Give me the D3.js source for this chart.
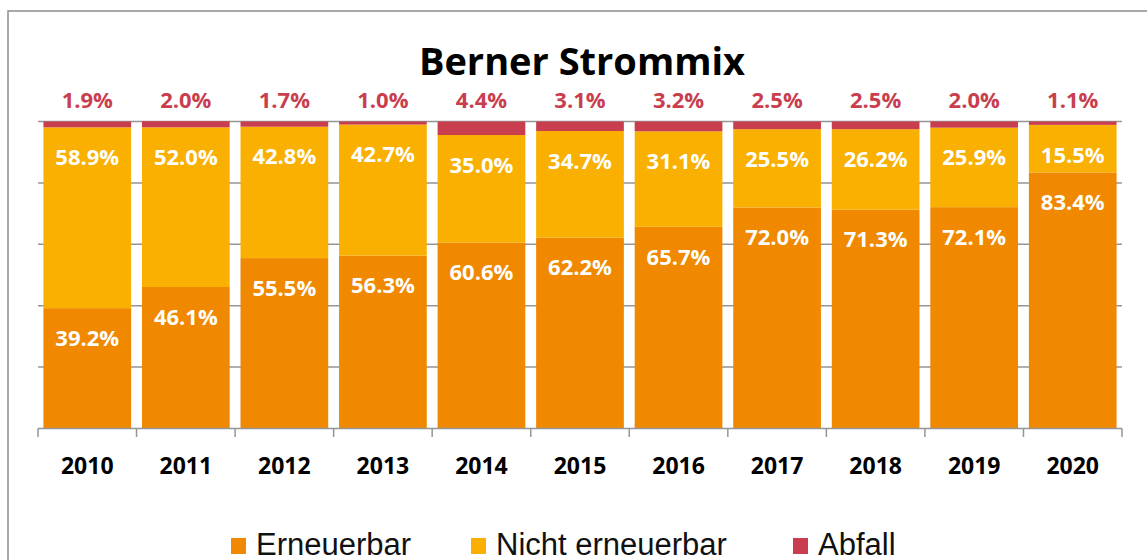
<!DOCTYPE html>
<html>
<head>
<meta charset="utf-8">
<script src="https://cdn.jsdelivr.net/npm/d3@7"></script>
<style>
  body { margin: 0; background: #fff; }
  svg { display: block; }
</style>
</head>
<body>
<div id="chart"></div>
<script>
// data (percent)
var years = ["2010", "2011", "2012", "2013", "2014", "2015", "2016", "2017", "2018", "2019", "2020"];
var erneuerbar = [39.2, 46.1, 55.5, 56.3, 60.6, 62.2, 65.7, 72.0, 71.3, 72.1, 83.4];
var nichtErneuerbar = [58.9, 52.0, 42.8, 42.7, 35.0, 34.7, 31.1, 25.5, 26.2, 25.9, 15.5];
var abfall = [1.9, 2.0, 1.7, 1.0, 4.4, 3.1, 3.2, 2.5, 2.5, 2.0, 1.1];
var seriesNames = ["Erneuerbar", "Nicht erneuerbar", "Abfall"];
var yTicks = [0, 20, 40, 60, 80, 100];

var colors = ["#f08800", "#f9b000", "#c93e4e"];

var W = 1147, H = 560;
var svg = d3.select("#chart").append("svg").attr("width", W).attr("height", H);

// outer frame
svg.append("rect")
    .attr("x", 8).attr("y", 11).attr("width", 1300).attr("height", 700)
    .attr("fill", "#fff").attr("stroke", "#8c8c8c").attr("stroke-width", 1.5);

svg.append("text")
    .attr("x", 582).attr("y", 75)
    .attr("text-anchor", "middle")
    .style("font-family", "Open Sans")
    .style("font-weight", "bold")
    .style("font-size", "38px")
    .text("Berner Strommix");

var x = d3.scaleBand().domain(years).range([38, 1122]).paddingInner(0.11).paddingOuter(0.055);
var y = d3.scaleLinear().domain([0, 100]).range([428.5, 121.5]);

// gridlines
svg.append("g").selectAll("line")
    .data(yTicks.filter(function (d) { return d > 0; }))
    .enter().append("line")
    .attr("x1", 38).attr("x2", 1122)
    .attr("y1", function (d) { return y(d); })
    .attr("y2", function (d) { return y(d); })
    .attr("stroke", "#959595").attr("stroke-width", 1.5);

var table = years.map(function (yr, i) {
    return { year: yr, Erneuerbar: erneuerbar[i], "Nicht erneuerbar": nichtErneuerbar[i], Abfall: abfall[i] };
});
var stacked = d3.stack().keys(seriesNames)(table);

var layers = svg.append("g").selectAll("g")
    .data(stacked)
    .enter().append("g")
    .attr("fill", function (d, i) { return colors[i]; });

layers.selectAll("rect")
    .data(function (d) { return d; })
    .enter().append("rect")
    .attr("x", function (d) { return x(d.data.year); })
    .attr("width", x.bandwidth())
    .attr("y", function (d) { return y(d[1]); })
    .attr("height", function (d) { return y(d[0]) - y(d[1]); });

// x axis with ticks at category boundaries
var axis = svg.append("g");
axis.append("line")
    .attr("x1", 38).attr("x2", 1122).attr("y1", 428.5).attr("y2", 428.5)
    .attr("stroke", "#959595").attr("stroke-width", 1.5);
var bounds = years.map(function (d) { return x(d) - x.step() * x.paddingInner() / 2; });
bounds.push(1122);
axis.selectAll(".tk").data(bounds).enter().append("line")
    .attr("x1", function (d) { return d; }).attr("x2", function (d) { return d; })
    .attr("y1", 428.5).attr("y2", 437)
    .attr("stroke", "#959595").attr("stroke-width", 1.5);
axis.selectAll("text").data(years).enter().append("text")
    .attr("x", function (d) { return x(d) + x.bandwidth() / 2; })
    .attr("y", 474)
    .attr("text-anchor", "middle")
    .style("font-family", "Open Sans")
    .style("font-weight", "bold")
    .style("font-size", "23px")
    .text(function (d) { return d; });

// value labels
var fmt = function (v) { return v.toFixed(1) + "%"; };
var labels = svg.append("g")
    .style("font-family", "Open Sans")
    .style("font-weight", "bold")
    .style("font-size", "22px")
    .attr("text-anchor", "middle");

[0, 1].forEach(function (s) {
    labels.selectAll(".l" + s).data(stacked[s]).enter().append("text")
        .attr("x", function (d) { return x(d.data.year) + x.bandwidth() / 2; })
        .attr("y", function (d) { return y(d[1]) + 30; })
        .attr("dy", "0.35em")
        .attr("fill", "#fff")
        .text(function (d) { return fmt(d[1] - d[0]); });
});
labels.selectAll(".l2").data(stacked[2]).enter().append("text")
    .attr("x", function (d) { return x(d.data.year) + x.bandwidth() / 2; })
    .attr("y", y(100) - 21)
    .attr("dy", "0.35em")
    .attr("fill", colors[2])
    .text(function (d) { return fmt(d[1] - d[0]); });

// legend
var legendX = [231, 471, 793];
var legend = svg.append("g").selectAll("g")
    .data(seriesNames)
    .enter().append("g")
    .attr("transform", function (d, i) { return "translate(" + legendX[i] + ",0)"; });
legend.append("rect")
    .attr("x", 0).attr("y", 538).attr("width", 15).attr("height", 16)
    .attr("fill", function (d, i) { return colors[i]; });
legend.append("text")
    .attr("x", 25).attr("y", 555)
    .style("font-family", "Liberation Sans")
    .style("font-size", "31px")
    .attr("fill", "#111")
    .text(function (d) { return d; });
</script>
</body>
</html>
